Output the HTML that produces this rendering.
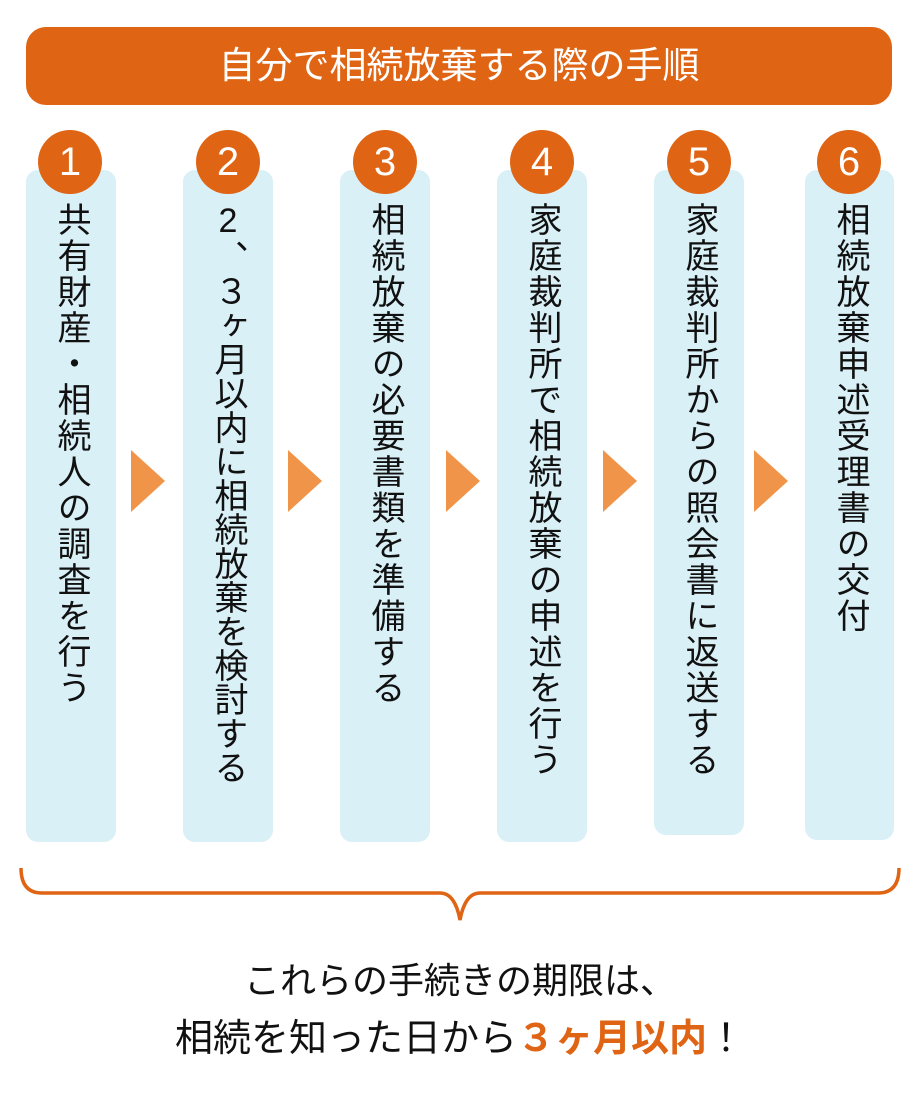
<!DOCTYPE html>
<html><head><meta charset="utf-8"><style>
body{margin:0;width:920px;height:1101px;background:#fff;position:relative;overflow:hidden;font-family:"Liberation Sans","Noto Sans CJK JP",sans-serif;}
.hdr{position:absolute;left:26px;top:27px;width:866px;height:78px;background:#df6414;border-radius:20px;color:#fff;font-size:37px;text-align:center;line-height:78px;}
.box{position:absolute;top:170px;width:90px;height:672px;background:#daf0f7;border-radius:12px;}
.num{position:absolute;top:130px;width:64px;height:64px;border-radius:50%;background:#df6414;color:#fff;font-size:40px;text-align:center;line-height:64px;}
.vt{position:absolute;top:202px;width:90px;writing-mode:vertical-rl;text-orientation:upright;font-size:34px;letter-spacing:2px;color:#111;line-height:90px;}
.arr{position:absolute;top:450px;width:0;height:0;border-top:31px solid transparent;border-bottom:31px solid transparent;border-left:34px solid #f0944a;}
.bt{position:absolute;left:0;width:920px;text-align:center;font-size:36px;color:#111;}
</style></head><body>
<div class="hdr">自分で相続放棄する際の手順</div>

<div class="box" style="left:26px"></div>
<div class="box" style="left:183px"></div>
<div class="box" style="left:340px"></div>
<div class="box" style="left:497px"></div>
<div class="box" style="left:654px;height:665px"></div>
<div class="box" style="left:805px;width:89px;height:670px"></div>

<div class="num" style="left:38px">1</div>
<div class="num" style="left:196px">2</div>
<div class="num" style="left:353px">3</div>
<div class="num" style="left:510px">4</div>
<div class="num" style="left:667px">5</div>
<div class="num" style="left:817px">6</div>

<div class="vt" style="left:26px">共有財産・相続人の調査を行う</div>
<div class="vt" style="left:183px;letter-spacing:0px">2、３ヶ月以内に相続放棄を検討する</div>
<div class="vt" style="left:340px">相続放棄の必要書類を準備する</div>
<div class="vt" style="left:497px">家庭裁判所で相続放棄の申述を行う</div>
<div class="vt" style="left:654px">家庭裁判所からの照会書に返送する</div>
<div class="vt" style="left:805px">相続放棄申述受理書の交付</div>

<div class="arr" style="left:131px"></div>
<div class="arr" style="left:288px"></div>
<div class="arr" style="left:446px"></div>
<div class="arr" style="left:603px"></div>
<div class="arr" style="left:754px"></div>

<svg style="position:absolute;left:0;top:0" width="920" height="1101">
<path d="M21 868 Q21 893 42 893 L440 893 Q455 893 460 920 Q465 893 480 893 L878 893 Q899 893 899 868" fill="none" stroke="#df6414" stroke-width="3.5"/>
</svg>

<div class="bt" style="top:952px">これらの手続きの期限は、</div>
<div class="bt" style="top:1007px;font-size:38px">相続を知った日から<span style="color:#df6414;font-weight:bold">３ヶ月以内</span>！</div>
</body></html>
